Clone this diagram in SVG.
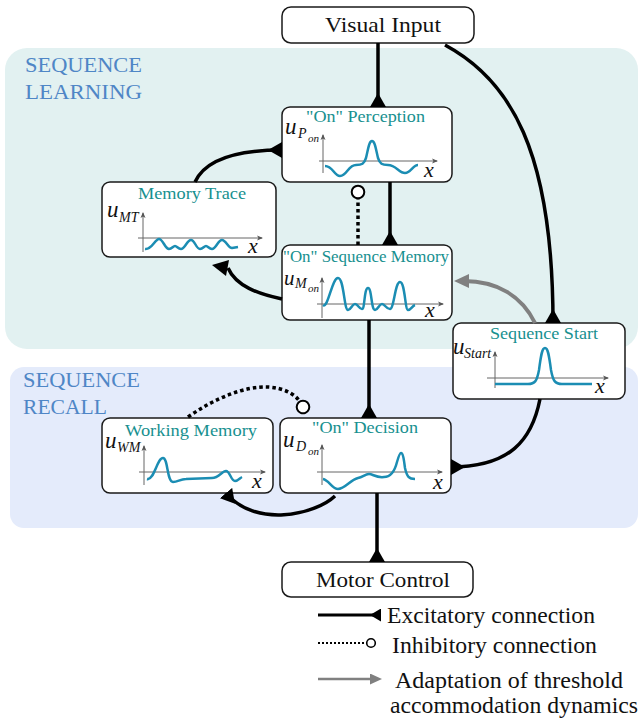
<svg xmlns="http://www.w3.org/2000/svg" width="641" height="719" viewBox="0 0 641 719">
<defs>
<style>
.box{fill:#fff;stroke:#1a1a1a;stroke-width:1.5}
.name{font-family:"Liberation Serif","DejaVu Serif",serif;font-size:22px;fill:#111}
.title{font-family:"Liberation Serif","DejaVu Serif",serif;font-size:17px;fill:#17908f}
.region{font-family:"Liberation Serif","DejaVu Serif",serif;font-size:22px;fill:#4f86c6}
.math{font-family:"Liberation Serif","DejaVu Serif",serif;font-style:italic;fill:#111}
.u{font-size:23px}
.s1{font-size:14px}
.s2{font-size:11px}
.xl{font-family:"Liberation Serif","DejaVu Serif",serif;font-style:italic;font-size:22px;fill:#111}
.axis{stroke:#666;stroke-width:1;fill:none;marker-end:url(#ax)}
.curve{stroke:#1b8db3;stroke-width:2.5;fill:none;stroke-linejoin:round}
.exc{stroke:#000;stroke-width:3.5;fill:none;marker-end:url(#tri)}
.inh{stroke:#000;stroke-width:3.5;stroke-dasharray:3.5 3;fill:none;marker-end:url(#circ)}
.adp{stroke:#808080;stroke-width:4;fill:none;marker-end:url(#garr)}
.legend{font-family:"Liberation Serif","DejaVu Serif",serif;font-size:23px;fill:#111}
</style>
<marker id="tri" markerUnits="userSpaceOnUse" viewBox="0 0 14 16" refX="14" refY="8" markerWidth="14" markerHeight="16" orient="auto"><path d="M0,8 L14,0 L14,16 Z" fill="#000"/></marker>
<marker id="tris" markerUnits="userSpaceOnUse" viewBox="0 0 11 13" refX="11" refY="6.5" markerWidth="11" markerHeight="13" orient="auto"><path d="M0,6.5 L11,0 L11,13 Z" fill="#000"/></marker>
<marker id="circ" markerUnits="userSpaceOnUse" viewBox="0 0 16 16" refX="8" refY="8" markerWidth="16" markerHeight="16" orient="auto"><circle cx="8" cy="8" r="6.3" fill="#fff" stroke="#000" stroke-width="2"/></marker>
<marker id="circs" markerUnits="userSpaceOnUse" viewBox="0 0 12 12" refX="6" refY="6" markerWidth="12" markerHeight="12" orient="auto"><circle cx="6" cy="6" r="4.3" fill="#fff" stroke="#000" stroke-width="1.6"/></marker>
<marker id="garr" markerUnits="userSpaceOnUse" viewBox="0 0 15 14" refX="5" refY="7" markerWidth="15" markerHeight="14" orient="auto"><path d="M0,0 L15,7 L0,14 Z" fill="#808080"/></marker>
<marker id="garrs" markerUnits="userSpaceOnUse" viewBox="0 0 12 11" refX="4" refY="5.5" markerWidth="12" markerHeight="11" orient="auto"><path d="M0,0 L12,5.5 L0,11 Z" fill="#808080"/></marker>
<marker id="ax" markerUnits="userSpaceOnUse" viewBox="0 0 6 6" refX="5" refY="3" markerWidth="6" markerHeight="6" orient="auto"><path d="M0,0.5 L6,3 L0,5.5 L1.5,3 Z" fill="#555"/></marker>
</defs>

<g id="regions">
<rect x="5" y="48" width="633" height="301" rx="22" fill="#e2f1f1"/>
<rect x="10" y="367" width="628" height="161" rx="14" fill="#e4ebfb"/>
<text class="region" x="25" y="72" textLength="117" lengthAdjust="spacingAndGlyphs">SEQUENCE</text>
<text class="region" x="25" y="99" textLength="117" lengthAdjust="spacingAndGlyphs">LEARNING</text>
<text class="region" x="23" y="387" textLength="117" lengthAdjust="spacingAndGlyphs">SEQUENCE</text>
<text class="region" x="23" y="414" textLength="84" lengthAdjust="spacingAndGlyphs">RECALL</text>
</g>

<g id="visual-input">
<rect class="box" x="282" y="7" width="192" height="36" rx="9"/>
<text class="name" x="325" y="32" textLength="116" lengthAdjust="spacingAndGlyphs">Visual Input</text>
</g>

<g id="on-perception">
<rect class="box" x="282" y="107" width="170" height="75" rx="8"/>
<text class="title" x="306" y="122" textLength="119" lengthAdjust="spacingAndGlyphs">"On" Perception</text>
<text class="math u" x="285" y="134">u</text><text class="math s1" x="298" y="138">P</text><text class="math s2" x="308" y="142">on</text>
<path class="axis" d="M323,173 L323,135"/>
<path class="axis" d="M319,161 L437,161"/>
<path class="curve" d="M325,166 C333,166 334,176 340,176 C347,176 348,165 356,165 C362,165 364,164 366,158 C368,150 369,141 372,141 C375,141 376,150 378,158 C380,164 382,165 388,165 C396,165 399,173 405,173 C411,173 413,165 418,165"/>
<text class="xl" x="424" y="177">x</text>
</g>

<g id="memory-trace">
<rect class="box" x="102" y="182" width="174" height="75" rx="8"/>
<text class="title" x="138" y="199" textLength="108" lengthAdjust="spacingAndGlyphs">Memory Trace</text>
<text class="math u" x="107" y="217">u</text><text class="math s1" x="119" y="222">MT</text>
<path class="axis" d="M143,252 L143,213"/>
<path class="axis" d="M138,238 L262,238"/>
<path class="curve" d="M145,249 C152,250 155,239 159,239 C163,239 165,249 169,249 C172,249 173,246 175,246 C177,246 178,249 181,249 C185,249 187,240 191,240 C195,240 196,249 200,249 C203,249 204,246 206,246 C208,246 209,249 212,249 C216,249 218,240 222,240 C226,240 228,248 232,248 L238,247"/>
<text class="xl" x="248" y="253">x</text>
</g>

<g id="on-sequence-memory">
<rect class="box" x="282" y="245" width="170" height="75" rx="8"/>
<text class="title" x="283" y="262" textLength="166" lengthAdjust="spacingAndGlyphs">"On" Sequence Memory</text>
<text class="math" font-size="21" x="284" y="285">u</text><text class="math s1" x="295" y="288">M</text><text class="math s2" x="308" y="292">on</text>
<path class="axis" d="M322,318 L322,278"/>
<path class="axis" d="M317,304 L443,304"/>
<path class="curve" d="M323,305 C328,309 332,278 338,278 C344,278 344,310 348,310 C351,310 352,304 355,304 C358,304 359,309 362,309 C365,309 364,288 368,288 C372,288 371,310 375,310 C378,310 379,304 382,304 C385,304 386,309 390,309 C394,309 395,282 400,282 C405,282 405,310 408,310 C411,310 412,306 415,305"/>
<text class="xl" x="425" y="317">x</text>
</g>

<g id="sequence-start">
<rect class="box" x="453" y="323" width="172" height="76" rx="8"/>
<text class="title" x="490" y="339" textLength="108" lengthAdjust="spacingAndGlyphs">Sequence Start</text>
<text class="math u" x="453" y="354">u</text><text class="math s1" x="464" y="358">Start</text>
<path class="axis" d="M495,388 L495,352"/>
<path class="axis" d="M487,378 L608,378"/>
<path class="curve" d="M495,384 L528,384 C535,384 537,381 539,370 C541,355 542,348 545,348 C548,348 549,355 551,370 C553,381 555,384 562,384 L592,384"/>
<text class="xl" x="595" y="393">x</text>
</g>

<g id="working-memory">
<rect class="box" x="102" y="418" width="171" height="75" rx="8"/>
<text class="title" x="125" y="436" textLength="132" lengthAdjust="spacingAndGlyphs">Working Memory</text>
<text class="math u" x="105" y="448">u</text><text class="math s1" x="117" y="452">WM</text>
<path class="axis" d="M144,485 L144,446"/>
<path class="axis" d="M139,472 L265,472"/>
<path class="curve" d="M147,479 C154,481 157,458 163,458 C168,458 167,482 173,482 C178,482 180,479 186,479 L212,478 C219,478 222,471 226,471 C230,471 231,481 235,481 C238,481 240,478 242,477"/>
<text class="xl" x="252" y="488">x</text>
</g>

<g id="on-decision">
<rect class="box" x="280" y="418" width="171" height="75" rx="8"/>
<text class="title" x="312" y="433" textLength="106" lengthAdjust="spacingAndGlyphs">"On" Decision</text>
<text class="math u" x="283" y="447">u</text><text class="math s1" x="296" y="451">D</text><text class="math s2" x="308" y="455">on</text>
<path class="axis" d="M322,485 L322,445"/>
<path class="axis" d="M317,472 L442,472"/>
<path class="curve" d="M323,479 C329,480 332,489 338,489 C345,489 350,480 358,478 C363,477 365,474 369,474 C373,474 376,478 384,477 C392,477 395,470 397,462 C399,455 400,453 401,453 C403,453 404,460 405,468 C407,477 409,479 415,479"/>
<text class="xl" x="433" y="489">x</text>
</g>

<g id="motor-control">
<rect class="box" x="282" y="562" width="191" height="35" rx="9"/>
<text class="name" x="316" y="587" textLength="134" lengthAdjust="spacingAndGlyphs">Motor Control</text>
</g>

<g id="connectors">
<path class="exc" d="M378,43 L378,107"/>
<path class="exc" d="M390,182 L390,245"/>
<path class="inh" d="M358,245 L358,192"/>
<path class="exc" d="M195,182 C205,160 235,150 282,150"/>
<path d="M282,299 C258,294 236,286 228,268" stroke="#000" stroke-width="3.5" fill="none"/>
<path d="M212,265 L229,260 L226,276 Z" fill="#000"/>
<path class="exc" d="M445,45 C510,80 553,150 553,323"/>
<path class="adp" d="M535,323 C522,296 497,281 464,281"/>
<path class="exc" d="M369,320 L369,418"/>
<path class="exc" d="M540,399 C532,440 510,467 451,467"/>
<path class="exc" d="M377,493 L377,562"/>
<path class="exc" d="M335,496 C315,515 255,528 226,493"/>
<path class="inh" d="M188,417 C215,398 245,386 268,387 C285,388 298,395 303,407"/>
</g>

<g id="legend">
<path d="M318,615 L381,615" stroke="#000" stroke-width="3" fill="none" marker-end="url(#tris)"/>
<text class="legend" x="387" y="623" textLength="208" lengthAdjust="spacingAndGlyphs">Excitatory connection</text>
<path d="M318,643 L371,643" stroke="#000" stroke-width="2" stroke-dasharray="2 2" fill="none" marker-end="url(#circs)"/>
<text class="legend" x="392" y="653" textLength="205" lengthAdjust="spacingAndGlyphs">Inhibitory connection</text>
<path d="M318,679 L374,679" stroke="#808080" stroke-width="2.5" fill="none" marker-end="url(#garrs)"/>
<text class="legend" x="395" y="688" textLength="228" lengthAdjust="spacingAndGlyphs">Adaptation of threshold</text>
<text class="legend" x="390" y="713" textLength="248" lengthAdjust="spacingAndGlyphs">accommodation dynamics</text>
</g>
</svg>
